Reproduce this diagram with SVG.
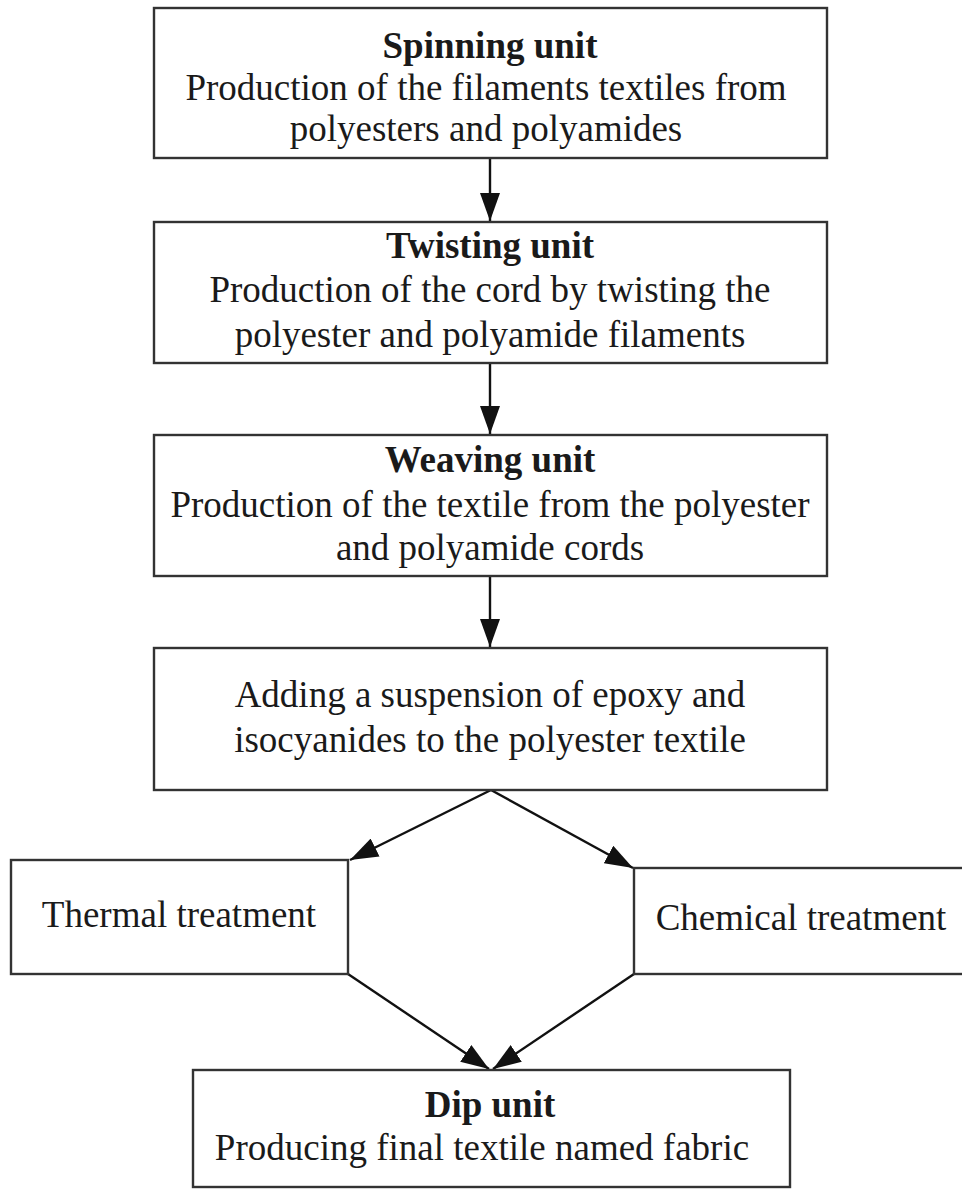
<svg xmlns="http://www.w3.org/2000/svg" width="962" height="1190" viewBox="0 0 962 1190">
<style>
.box{fill:#fff;stroke:#333;stroke-width:2.4}
.t{font-family:"Liberation Serif","Times New Roman",serif;font-size:37px;fill:#1a1a1a;text-anchor:middle}
.b{font-weight:bold}
.c{stroke:#111;stroke-width:2.4;fill:none}
</style>
<defs>
<marker id="ah" markerUnits="userSpaceOnUse" markerWidth="28" markerHeight="20" refX="28" refY="10" orient="auto">
<path d="M0,0 L28,10 L0,20 z" fill="#111"/>
</marker>
</defs>
<rect width="962" height="1190" fill="#fff"/>
<g id="connectors">
<line class="c" x1="490" y1="158" x2="490" y2="221" marker-end="url(#ah)"/>
<line class="c" x1="490" y1="363" x2="490" y2="434" marker-end="url(#ah)"/>
<line class="c" x1="490" y1="576" x2="490" y2="647" marker-end="url(#ah)"/>
<line class="c" x1="491" y1="790" x2="350" y2="860" marker-end="url(#ah)"/>
<line class="c" x1="491" y1="790" x2="633" y2="868" marker-end="url(#ah)"/>
<line class="c" x1="348" y1="974" x2="489" y2="1069" marker-end="url(#ah)"/>
<line class="c" x1="634" y1="974" x2="493" y2="1069" marker-end="url(#ah)"/>
</g>
<g id="spinning">
<rect class="box" x="154" y="8" width="673" height="150"/>
<text class="t b" x="490" y="58">Spinning unit</text>
<text class="t" x="486" y="100">Production of the filaments textiles from</text>
<text class="t" x="486" y="141">polyesters and polyamides</text>
</g>
<g id="twisting">
<rect class="box" x="154" y="222" width="673" height="141"/>
<text class="t b" x="490" y="258">Twisting unit</text>
<text class="t" x="490" y="302">Production of the cord by twisting the</text>
<text class="t" x="490" y="347">polyester and polyamide filaments</text>
</g>
<g id="weaving">
<rect class="box" x="154" y="435" width="673" height="141"/>
<text class="t b" x="490" y="472">Weaving unit</text>
<text class="t" x="490" y="517">Production of the textile from the polyester</text>
<text class="t" x="490" y="560">and polyamide cords</text>
</g>
<g id="adding">
<rect class="box" x="154" y="648" width="673" height="142"/>
<text class="t" x="490" y="707">Adding a suspension of epoxy and</text>
<text class="t" x="490" y="752">isocyanides to the polyester textile</text>
</g>
<g id="thermal">
<rect class="box" x="11" y="860" width="337" height="114"/>
<text class="t" x="179" y="927">Thermal treatment</text>
</g>
<g id="chemical">
<rect class="box" x="634" y="868" width="332" height="106"/>
<text class="t" x="801" y="930">Chemical treatment</text>
</g>
<g id="dip">
<rect class="box" x="193" y="1070" width="597" height="117"/>
<text class="t b" x="490" y="1117">Dip unit</text>
<text class="t" x="482" y="1160">Producing final textile named fabric</text>
</g>
</svg>
